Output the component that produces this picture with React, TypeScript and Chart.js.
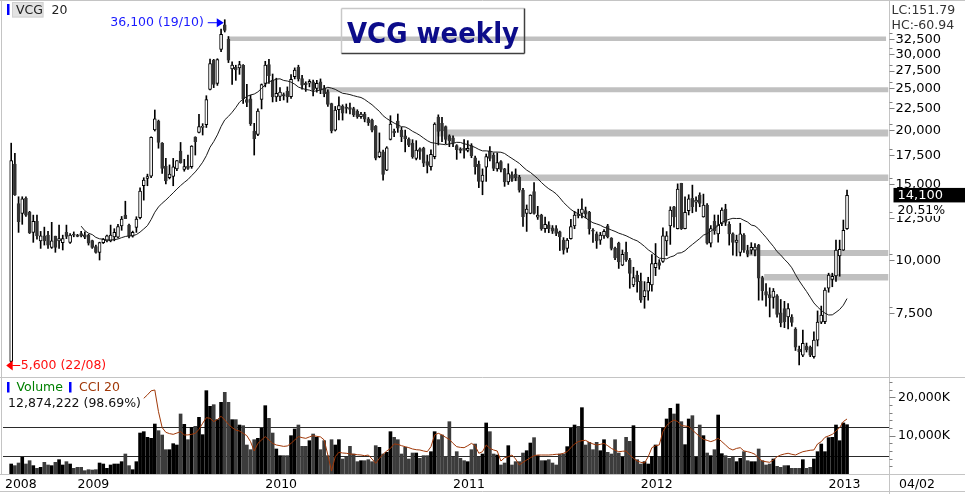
import React, { useEffect, useRef } from 'react';
import { Chart, registerables } from 'chart.js';

Chart.register(...registerables);

// ---------------- data ----------------
const symbol = 'VCG';
const maPeriod = 20;
const chartTitle = 'VCG weekly';

const opens = [
  5800, 16680, 13500, 12810, 13880, 12880, 11570, 12280, 11060, 11360,
  11400, 10680, 11340, 11060, 10950, 11570, 10960, 11450, 11400, 11500,
  11420, 11400, 11080, 10720, 10400, 10950, 11060, 11060, 11300, 11280,
  11980, 12690, 12030, 11340, 11880, 12510, 14850, 15450, 15640, 20010,
  21000, 18650, 16490, 15500, 15600, 16240, 17880, 16200, 16500, 16440,
  19270, 19760, 20280, 20600, 24870, 29090, 25660, 30790, 35140, 32500,
  27730, 28000, 27900, 28300, 23540, 23650, 19900, 19550, 23570, 25680,
  28400, 26100, 23900, 23950, 24200, 24600, 23910, 26600, 28000, 26350,
  25700, 25700, 25900, 25000, 25900, 25000, 24550, 23050, 20000, 22300,
  22700, 22600, 22550, 22450, 22100, 21500, 21800, 21250, 21100, 20400,
  17350, 17800, 16150, 19030, 19900, 21000, 20000, 19400, 19050, 18650,
  17190, 18100, 18150, 16900, 16440, 17350, 21450, 20750, 20380, 19400,
  19200, 18400, 18100, 18150, 17950, 18400, 17250, 16650, 15200, 16410,
  17880, 17500, 16250, 16900, 16250, 15150, 15750, 15800, 15550, 14500,
  12800, 12810, 14400, 12550, 12700, 11800, 12050, 11850, 11800, 11600,
  11100, 10620, 11190, 11980, 12750, 12800, 13000, 12880, 11700, 11480,
  11100, 11360, 11980, 11230, 10620, 10920, 9710, 10400, 9980, 8730,
  9210, 8920, 8200, 8450, 8730, 9580, 9850, 9900, 11050, 11980,
  13270, 11810, 15040, 11810, 13000, 13880, 13600, 14130, 12570, 13390,
  10920, 12280, 11480, 12140, 13100, 12080, 11480, 10970, 10400, 11400,
  10500, 10520, 10520, 10810, 9080, 8430, 8300, 8170, 8240, 7520,
  7700, 7360, 7350, 6900, 6200, 6000, 6300, 6260, 5950, 6500,
  7160, 7180, 8580, 9000, 9170, 10200, 10520, 11810,
];

const highs = [
  18650, 17660, 14000, 14000, 14000, 12950, 12690, 12690, 11630, 11900,
  11630, 12210, 11340, 12030, 11400, 12030, 11500, 11600, 11450, 11630,
  11600, 11450, 11100, 10810, 10980, 11200, 11400, 12030, 11800, 12080,
  12600, 13670, 12100, 11650, 12580, 14680, 15500, 15800, 19300, 22270,
  21100, 18700, 17190, 16600, 17190, 17000, 18720, 17100, 17500, 18400,
  19300, 21760, 20700, 24040, 29260, 29200, 29300, 34350, 36100, 33000,
  28820, 28300, 28900, 28400, 25540, 24100, 20740, 22400, 25600, 28900,
  29200, 27000, 26400, 25100, 24400, 25200, 26900, 27900, 28300, 26800,
  25900, 26200, 26150, 26100, 26300, 25400, 24800, 23100, 22700, 23900,
  22900, 23000, 23100, 22600, 22300, 22000, 22000, 21400, 21200, 20500,
  19700, 17970, 18300, 21600, 20100, 21800, 20300, 20000, 19200, 19000,
  18900, 18200, 18250, 17500, 18000, 20800, 21700, 21400, 20450, 19500,
  19400, 18500, 18200, 19000, 18900, 18600, 17400, 16950, 16250, 17600,
  18300, 17700, 17700, 17000, 16300, 16700, 16000, 16250, 15700, 14650,
  13400, 14150, 15100, 13300, 12750, 12550, 12250, 12000, 12000, 11650,
  11250, 11200, 12400, 12950, 13100, 13850, 13250, 12950, 11800, 11600,
  11570, 11750, 12080, 11250, 10700, 10980, 10530, 10980, 10070, 9600,
  9400, 9300, 8890, 9100, 10280, 10900, 10000, 11850, 11620, 13270,
  13300, 15000, 15050, 14000, 14150, 14900, 14000, 14300, 14200, 13500,
  12000, 12700, 12700, 13200, 13450, 12250, 11550, 11400, 12150, 11500,
  10800, 10950, 10900, 10850, 9150, 8800, 8600, 8570, 8300, 8080,
  8000, 7900, 7450, 6950, 6300, 6860, 6400, 6300, 6800, 7600,
  7800, 8600, 9300, 9300, 11100, 11100, 12360, 14510,
];

const lows = [
  5600, 14100, 11570, 12080, 12600, 11500, 10970, 11150, 10620, 10810,
  10620, 10620, 10400, 10620, 10530, 11190, 10900, 11300, 11300, 11300,
  11190, 10810, 10620, 10350, 9980, 10900, 11000, 11000, 11060, 11230,
  11700, 12450, 11230, 11280, 11570, 12430, 13750, 14850, 15500, 19900,
  18150, 15870, 15000, 15400, 14850, 16100, 16750, 16050, 16200, 16300,
  17500, 19700, 19480, 20280, 24800, 25100, 25400, 30420, 33800, 28700,
  25540, 26100, 26950, 23060, 22660, 20500, 17500, 19400, 22400, 25200,
  25660, 23250, 23300, 23400, 23500, 23200, 23700, 26300, 26000, 24900,
  24600, 25200, 24000, 24500, 24300, 23900, 22700, 19700, 19900, 21110,
  21100, 21900, 21800, 21500, 21300, 21300, 20900, 20500, 19800, 17050,
  17250, 15300, 16100, 18970, 19300, 19760, 18800, 17800, 18300, 17200,
  17050, 17100, 16450, 15900, 16150, 17150, 18470, 18800, 18600, 18300,
  18300, 17100, 17700, 17200, 17800, 17250, 15800, 14700, 14150, 15200,
  16950, 16100, 16050, 16000, 14800, 14950, 15200, 15250, 14350, 11950,
  11630, 12780, 12750, 12400, 11700, 11570, 11550, 11500, 11370, 10500,
  10300, 10400, 11150, 11800, 12500, 12500, 12500, 11460, 10960, 10620,
  10850, 11200, 11230, 10530, 10000, 9540, 9680, 9900, 8580, 8650,
  8400, 7950, 7710, 8050, 8450, 9180, 9500, 9850, 10220, 10850,
  11900, 11780, 11750, 11780, 12700, 12850, 12950, 13270, 12550, 10870,
  10700, 11450, 10980, 12000, 12000, 10810, 10240, 10200, 10200, 10400,
  10150, 10300, 10200, 8050, 8050, 7800, 7360, 7710, 7350, 6980,
  6950, 6900, 7000, 6150, 5690, 5950, 6100, 5950, 5900, 6300,
  7100, 7100, 8400, 8650, 8900, 9150, 10500, 11750,
];

const closes = [
  17000, 14130, 12250, 13840, 12690, 11530, 12280, 11360, 11360, 11060,
  10810, 11060, 10680, 11190, 11190, 11320, 11400, 11400, 11320, 11360,
  11280, 10920, 10680, 10400, 10960, 11150, 11360, 11400, 11570, 11930,
  12430, 12450, 11340, 11570, 12430, 14430, 15310, 15600, 19240, 21250,
  18720, 16300, 15230, 15800, 16440, 17000, 16800, 16450, 16300, 18370,
  18790, 20370, 20420, 23560, 28560, 25540, 29170, 33380, 34100, 29090,
  28320, 27600, 28400, 23650, 23180, 20700, 19100, 22150, 25500, 28320,
  26760, 23900, 24350, 24500, 24000, 23900, 26240, 27580, 26300, 25450,
  25500, 25950, 24800, 25700, 24800, 24300, 22950, 19900, 22270, 22800,
  21900, 22450, 22350, 21700, 21500, 21800, 21200, 20800, 20000, 17200,
  17800, 15780, 18200, 20640, 19700, 20200, 19300, 19100, 18450, 17350,
  17970, 17850, 16750, 16550, 17560, 20640, 19870, 19900, 19030, 18900,
  18700, 18000, 17950, 17950, 18150, 17450, 16440, 15200, 15720, 17350,
  17190, 16300, 16800, 16200, 15150, 15850, 15450, 15500, 14500, 12580,
  13100, 14130, 12800, 12690, 11800, 12080, 11800, 11650, 11500, 11300,
  10520, 11100, 11930, 12690, 12650, 13100, 12750, 11810, 11650, 11050,
  11400, 11640, 11300, 10620, 10090, 9880, 10290, 9980, 9290, 9080,
  8890, 8050, 8470, 8860, 9790, 9800, 9700, 11360, 11360, 13040,
  12570, 14580, 11810, 12880, 13840, 13270, 13750, 13510, 13390, 10920,
  11810, 11670, 12030, 13040, 12200, 11480, 10970, 11100, 11480, 10520,
  10300, 10680, 10700, 9050, 8470, 8270, 8150, 8450, 7460, 7140,
  7180, 7700, 7150, 6260, 6100, 6390, 6170, 6000, 6500, 7160,
  7430, 8500, 9210, 9150, 10520, 10560, 11700, 14100,
];

// weekly volume, thousands of shares
const volumeK = [
  2610, 2180, 2870, 4350, 2610, 3480, 2180, 1480, 1740, 3050,
  2350, 2180, 3050, 3740, 2350, 3220, 2610, 1480, 1740, 1740,
  870, 1130, 1040, 1130, 2870, 2610, 1480, 2350, 2610, 2610,
  3220, 5220, 2180, 1130, 3220, 10700, 11050, 9570, 9310, 13050,
  11310, 10180, 6350, 6350, 7920, 7570, 15670, 12970, 8960, 12180,
  12450, 14790, 10270, 21760, 17670, 18100, 14190, 18710, 21320, 18710,
  14190, 14190, 12790, 12620, 7570, 6350, 8960, 9310, 11920, 17840,
  14530, 10700, 6530, 4790, 4790, 4790, 10010, 11750, 12790, 7220,
  7220, 8700, 10440, 9570, 6350, 8700, 4790, 8960, 7570, 8960,
  3920, 4350, 7220, 5220, 3220, 3480, 3480, 3740, 3220, 7400,
  6960, 5220, 5660, 11050, 9570, 8960, 5220, 6960, 3920, 5480,
  5480, 4090, 4790, 4790, 5830, 11050, 8960, 10180, 4610, 13660,
  4350, 5830, 4090, 3480, 3220, 6350, 7830, 4350, 5220, 13320,
  11050, 5220, 4960, 2350, 2870, 7400, 2350, 3220, 3220, 5480,
  6090, 8090, 9490, 4790, 3480, 3480, 3740, 2870, 2350, 5220,
  5220, 7140, 11920, 12790, 12450, 17320, 7570, 8270, 6350, 8270,
  6090, 8960, 5660, 5220, 8960, 5480, 4350, 9570, 8530, 12620,
  3740, 2610, 3220, 2610, 4610, 7570, 4530, 11920, 14360, 17140,
  15670, 18280, 13660, 7660, 14360, 15230, 4350, 12790, 10010, 5480,
  4790, 6350, 15400, 5310, 4790, 4090, 4350, 3220, 4090, 5830,
  3480, 3220, 3220, 6530, 3480, 2350, 2610, 3920, 2000, 1740,
  2180, 2180, 1480, 1480, 1480, 3740, 1480, 1740, 3920, 5830,
  7830, 5830, 9490, 9570, 12790, 8700, 13320, 12874,
];

// CCI(20), plotted from bar index cciStart onwards
const cciStart = 36;
const cci20 = [
  302, 326, 354, 360, 209, 98, 65, 56, 51, 60,
  70, 47, 47, 51, 58, 86, 128, 167, 163, 140,
  154, 177, 151, 121, 98, 81, 74, 58, 42, 0,
  -65, -12, 12, 35, 12, -12, -23, -28, -33, -30,
  -12, 12, 35, 28, 23, 33, 42, 37, 33, 12,
  -93, -205, -105, -74, -79, -81, -86, -88, -91, -93,
  -98, -93, -121, -151, -116, -88, -65, -47, -16, -19,
  -28, -35, -42, -51, -56, -58, -65, -70, -35, 47,
  58, 47, 30, 16, -12, -35, -40, -42, -28, -12,
  -28, -81, -70, -23, -47, -58, -65, -135, -112, -105,
  -93, -121, -163, -144, -128, -112, -98, -93, -93, -93,
  -93, -91, -88, -88, -81, -70, -42, -16, 0, 7,
  9, -5, -16, -23, -19, -12, -28, -47, -60, -70,
  -67, -65, -93, -116, -135, -144, -149, -105, -42, -28,
  -23, 70, 112, 135, 151, 140, 112, 109, 105, 81,
  58, 35, 16, 9, 0, 9, 23, 0, -23, -47,
  -58, -47, -42, -65, -70, -77, -88, -116, -135, -140,
  -144, -128, -105, -93, -86, -81, -88, -93, -81, -70,
  -65, -60, -58, -16, 0, 30, 40, 51, 74, 98,
  140, 158,
];
const cciLevels = [100, -100];

// horizontal support / resistance levels (price, from bar, to bar)
const bandLevels = [32600, 24810, 19690, 15500, 10360, 9100];
const bandFrom = [59, 85, 115.6, 135.2, 199.6, 204.5];
const bandTo = [237.6, 238.2, 238.2, 238.2, 238.2, 238.2];

const priceTicks = [7500, 10000, 12500, 15000, 17500, 20000, 22500, 25000, 27500, 30000, 32500];
const volumeTicksK = [10000, 20000];
const volumeMinorTicksK = [2000, 4000, 6000, 8000, 12000, 14000, 16000, 18000, 22000, 24000];
const yearLabels = ['2008', '2009', '2010', '2011', '2012', '2013'];
const yearIndex = [-1.7, 18, 69, 120, 171, 222];
const lastDateLabel = '04/02';

const highValue = 36100;
const highIndex = 58;
const highLabel = '36,100 (19/10)';
const lowValue = 5600;
const lowIndex = 0;
const lowLabel = '5,600 (22/08)';
const lcText = 'LC:151.79';
const hcText = 'HC:-60.94';
const lastVolumeText = '12,874,222 (98.69%)';
const changeText = '20.51%';

// ---------------- styles / layout ----------------
const W = 965;
const H = 494;
const FONT = '"DejaVu Sans", Verdana, sans-serif';
const bandWidths = [4.5, 5, 7, 6.5, 6, 6.5];
const PANE_SPLIT = 377.5;

const fmt = (v: number) => v.toLocaleString('en-US');

export default function App() {
  const ref = useRef<HTMLCanvasElement>(null);

  useEffect(() => {
    const canvas = ref.current;
    if (!canvas) return;
    const n = closes.length;
    const up = closes.map((c, i) => c >= opens[i]);

    const maData: any[] = [];
    for (let i = maPeriod - 1; i < n; i++) {
      let s = 0;
      for (let k = i - maPeriod + 1; k <= i; k++) s += closes[k];
      maData.push({ x: i, y: s / maPeriod });
    }

    const line = (ctx: any, x1: number, y1: number, x2: number, y2: number) => {
      ctx.beginPath();
      ctx.moveTo(x1, y1);
      ctx.lineTo(x2, y2);
      ctx.stroke();
    };

    const overlay = {
      id: 'overlay',
      beforeDraw(chart: any) {
        const ctx = chart.ctx;
        ctx.save();
        ctx.fillStyle = '#ffffff';
        ctx.fillRect(0, 0, W, H);
        ctx.restore();
      },
      beforeDatasetsDraw(chart: any) {
        const { ctx, chartArea: a, scales } = chart;
        ctx.save();
        ctx.strokeStyle = '#c4c4c4';
        ctx.lineWidth = 1;
        line(ctx, 0, 0.5, W, 0.5);
        line(ctx, 1.5, 0, 1.5, a.bottom);
        line(ctx, 0, PANE_SPLIT, W, PANE_SPLIT);
        line(ctx, 0, a.bottom + 0.5, W, a.bottom + 0.5);
        line(ctx, 0, H - 2.5, W, H - 2.5);
        line(ctx, a.right - 0.5, 0, a.right - 0.5, H);
        ctx.strokeStyle = '#2a2a2a';
        cciLevels.forEach((v) => {
          const y = Math.round(scales.yCci.getPixelForValue(v)) + 0.5;
          line(ctx, a.left, y, a.right - 1, y);
        });
        ctx.restore();
      },
      afterDraw(chart: any) {
        const { ctx, chartArea: a, scales } = chart;
        const xs = scales.x;
        const ys = scales.y;
        const yv = scales.yVol;
        ctx.save();
        ctx.textBaseline = 'middle';
        ctx.textAlign = 'left';

        // header: symbol + MA period
        ctx.fillStyle = '#0000ff';
        ctx.fillRect(7, 4, 2.5, 11);
        ctx.fillStyle = '#e2e2e2';
        ctx.fillRect(12, 2, 31.5, 15.5);
        ctx.strokeStyle = '#d0d0d0';
        ctx.lineWidth = 1;
        ctx.strokeRect(12.5, 2.5, 30.5, 14.5);
        ctx.font = `12.5px ${FONT}`;
        ctx.fillStyle = '#222';
        ctx.fillText(symbol, 16, 10.5);
        ctx.fillText(String(maPeriod), 51.5, 10.5);

        // title box
        ctx.lineWidth = 1.5;
        ctx.strokeStyle = '#c8c8c8';
        line(ctx, 341.5, 8.5, 524.5, 8.5);
        line(ctx, 341.5, 8.5, 341.5, 53.5);
        ctx.strokeStyle = '#404040';
        line(ctx, 524.5, 8.5, 524.5, 53.5);
        line(ctx, 341.5, 53.5, 524.5, 53.5);
        ctx.font = `bold 29px ${FONT}`;
        ctx.fillStyle = '#0c0c8a';
        ctx.textBaseline = 'alphabetic';
        ctx.fillText(chartTitle, 347, 42.5, 172);
        ctx.textBaseline = 'middle';

        // high annotation
        const hx = xs.getPixelForValue(highIndex) - 1;
        const hy = ys.getPixelForValue(highValue) + 3;
        ctx.fillStyle = '#0000ff';
        ctx.strokeStyle = '#0000ff';
        ctx.lineWidth = 1;
        ctx.beginPath();
        ctx.moveTo(hx, hy);
        ctx.lineTo(hx - 7, hy - 4.5);
        ctx.lineTo(hx - 7, hy + 4.5);
        ctx.closePath();
        ctx.fill();
        line(ctx, hx - 16, hy, hx - 6, hy);
        ctx.font = `12.5px ${FONT}`;
        ctx.fillStyle = '#1a1aff';
        ctx.textAlign = 'right';
        ctx.fillText(highLabel, hx - 20, hy + 0.5);
        ctx.textAlign = 'left';

        // low annotation
        const lx = xs.getPixelForValue(lowIndex) - 5;
        const ly = ys.getPixelForValue(lowValue) - 2.5;
        ctx.fillStyle = '#ff0000';
        ctx.strokeStyle = '#ff0000';
        ctx.beginPath();
        ctx.moveTo(lx, ly);
        ctx.lineTo(lx + 6.5, ly - 5);
        ctx.lineTo(lx + 6.5, ly + 5);
        ctx.closePath();
        ctx.fill();
        line(ctx, lx + 6, ly, lx + 14, ly);
        ctx.fillStyle = '#ff1010';
        ctx.fillText(lowLabel, lx + 14.5, ly + 0.5);

        // right price axis
        const ax = a.right - 0.5;
        ctx.fillStyle = '#333';
        ctx.font = `12.5px ${FONT}`;
        ctx.fillText(lcText, ax + 2, 10.5);
        ctx.fillText(hcText, ax + 2, 25.5);
        ctx.strokeStyle = '#808080';
        ctx.fillStyle = '#000';
        ctx.font = `13px ${FONT}`;
        priceTicks.forEach((v) => {
          const py = ys.getPixelForValue(v);
          const ty = Math.round(py) + 0.5;
          line(ctx, ax, ty, ax + 5, ty);
          line(ctx, ax, ty - 6, ax + 3, ty - 6);
          ctx.fillText(fmt(v), ax + 6, py + 0.5);
        });

        // last close box + change
        const lastClose = closes[n - 1];
        const cy = ys.getPixelForValue(lastClose);
        ctx.fillStyle = '#ffffff';
        ctx.fillRect(ax + 4, cy + 7.5, 60, 13);
        ctx.fillStyle = '#000000';
        ctx.fillRect(ax + 4, cy - 7.5, W - ax - 4, 14.5);
        ctx.fillStyle = '#ffffff';
        ctx.fillText(fmt(lastClose), ax + 8, cy + 0.5);
        ctx.fillStyle = '#000';
        ctx.font = `12.5px ${FONT}`;
        ctx.fillText(changeText, ax + 8, cy + 15);

        // volume pane legend
        ctx.fillStyle = '#0000ff';
        ctx.fillRect(7, 382, 2.5, 10.5);
        ctx.fillRect(69, 382, 2.5, 10.5);
        ctx.font = `12.5px ${FONT}`;
        ctx.fillStyle = '#008000';
        ctx.fillText('Volume', 16.5, 387.5);
        ctx.fillStyle = '#a03808';
        ctx.fillText(`CCI ${maPeriod}`, 79, 387.5);
        ctx.fillStyle = '#111';
        ctx.fillText(lastVolumeText, 8, 404);

        // volume axis
        ctx.strokeStyle = '#808080';
        volumeMinorTicksK.forEach((v) => {
          const ty = Math.round(yv.getPixelForValue(v)) + 0.5;
          line(ctx, ax, ty, ax + 3, ty);
        });
        ctx.fillStyle = '#000';
        volumeTicksK.forEach((v) => {
          const py = yv.getPixelForValue(v);
          const ty = Math.round(py) + 0.5;
          line(ctx, ax, ty, ax + 6, ty);
          ctx.fillText(`${fmt(v)}K`, ax + 8.5, py + 0.5);
        });

        // x axis labels
        ctx.fillStyle = '#000';
        ctx.font = `12.5px ${FONT}`;
        yearLabels.forEach((lab, k) => {
          ctx.fillText(lab, xs.getPixelForValue(yearIndex[k]), 484.5);
        });
        ctx.fillText(lastDateLabel, ax + 9.5, 484.5);
        ctx.restore();
      },
    };

    const datasets: any[] = [];
    bandLevels.forEach((lvl, k) => {
      datasets.push({
        type: 'line',
        data: [{ x: bandFrom[k], y: lvl }, { x: bandTo[k], y: lvl }],
        borderColor: '#c0c0c0',
        borderWidth: bandWidths[k],
        borderCapStyle: 'butt',
        pointRadius: 0,
        yAxisID: 'y',
        order: 20,
      });
    });
    datasets.push({
      type: 'bar',
      data: highs.map((h, i) => ({ x: i, y: [lows[i], h] })),
      backgroundColor: '#000000',
      barThickness: 1,
      grouped: false,
      yAxisID: 'y',
      order: 10,
    });
    datasets.push({
      type: 'bar',
      data: opens.map((o, i) => ({ x: i, y: [Math.min(o, closes[i]), Math.max(o, closes[i])] })),
      backgroundColor: up.map((u) => (u ? '#ffffff' : '#333333')),
      borderColor: up.map((u) => (u ? '#000000' : '#333333')),
      borderWidth: 1,
      borderSkipped: false,
      minBarLength: 1,
      barThickness: 3,
      grouped: false,
      yAxisID: 'y',
      order: 9,
    });
    datasets.push({
      type: 'line',
      data: maData,
      borderColor: '#1a1a1a',
      borderWidth: 1,
      pointRadius: 0,
      tension: 0,
      yAxisID: 'y',
      order: 8,
    });
    datasets.push({
      type: 'bar',
      data: volumeK.map((v, i) => ({ x: i, y: v })),
      backgroundColor: up.map((u) => (u ? '#000000' : '#3c3c3c')),
      barThickness: 3,
      grouped: false,
      yAxisID: 'yVol',
      order: 7,
    });
    datasets.push({
      type: 'line',
      data: cci20.map((v, k) => ({ x: cciStart + k, y: v })),
      borderColor: '#a03808',
      borderWidth: 1,
      pointRadius: 0,
      tension: 0,
      yAxisID: 'yCci',
      order: 6,
    });

    const chart = new Chart(canvas, {
      type: 'bar',
      data: { datasets },
      options: {
        responsive: false,
        animation: false,
        devicePixelRatio: 1,
        events: [],
        layout: { padding: { left: 3, top: 2, right: 75, bottom: 20 } },
        plugins: { legend: { display: false }, tooltip: { enabled: false } },
        scales: {
          x: { type: 'linear', min: -2.227, max: 238.67, display: false, offset: false, bounds: 'data' },
          y: { type: 'logarithmic', min: 3176, max: 39690, display: false, bounds: 'data', beginAtZero: false },
          yVol: { type: 'linear', min: 0, max: 123237, display: false, bounds: 'data' },
          yCci: { type: 'linear', min: -225.4, max: 3063.8, display: false, bounds: 'data' },
        },
      } as any,
      plugins: [overlay],
    } as any);

    return () => chart.destroy();
  }, []);

  return (
    <div style={{ position: 'absolute', left: 0, top: 0, width: W, height: H, background: '#fff' }}>
      <canvas ref={ref} width={W} height={H} style={{ display: 'block', width: W, height: H }} />
    </div>
  );
}
